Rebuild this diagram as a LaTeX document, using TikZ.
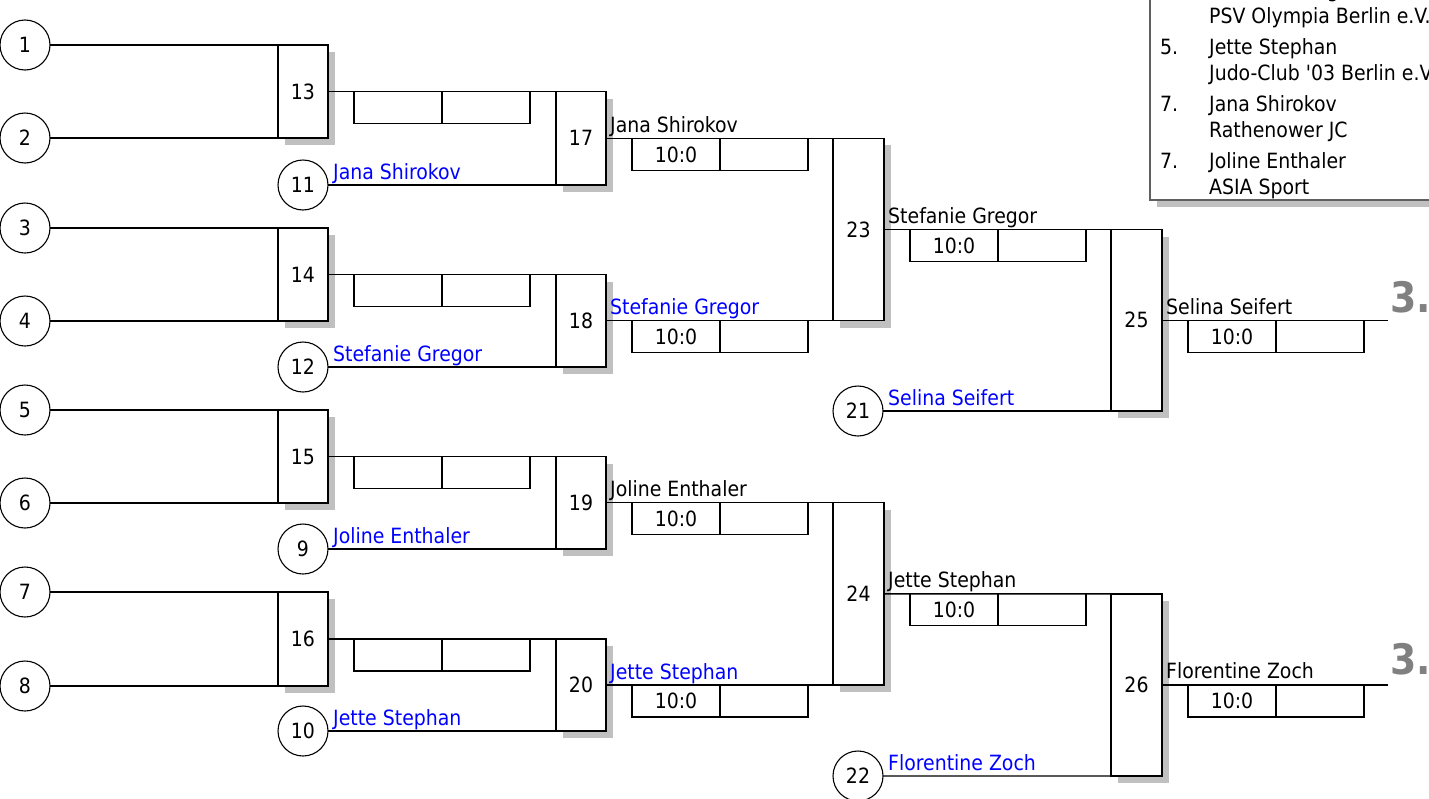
\documentclass[tikz,border=0pt]{standalone}
\usepackage{fontspec}
\setmainfont{DejaVu Sans Condensed}
\usetikzlibrary{shadows}
\definecolor{shadowgray}{HTML}{C0C0C0}
\definecolor{nameblue}{HTML}{0000FF}
\definecolor{placegray}{HTML}{808080}
\definecolor{legendline}{HTML}{606060}
\tikzset{
  ln/.style={line width=1.3pt, draw=black},
  mbox/.style={draw, line width=1.3pt, fill=white, inner sep=0pt, outer sep=0pt,
    drop shadow={shadow xshift=7pt, shadow yshift=-7pt, fill=shadowgray, opacity=1}},
  seed/.style={circle, draw, line width=1.1pt, minimum size=50pt, inner sep=0pt, outer sep=0pt, fill=white},
  score/.style={draw, line width=1.2pt, minimum width=88pt, minimum height=32pt, inner sep=0pt, outer sep=0pt, anchor=north west, text depth=-5pt},
  wname/.style={anchor=base west, inner sep=0pt, text=black},
  lname/.style={anchor=base west, inner sep=0pt, text=nameblue},
  place/.style={anchor=base west, inner sep=0pt, text=placegray, font=\fontsize{42}{45}\selectfont\bfseries},
  legtext/.style={anchor=base west, inner sep=0pt, text=black},
}
\begin{document}
\begin{tikzpicture}[x=1pt, y=-1pt, every node/.append style={font=\fontsize{21}{25}\selectfont}]
\useasboundingbox (0,0) rectangle (1429,798);

% seeds
\node[seed] (c1) at (25,45) {1};
\node[seed] (c2) at (25,138) {2};
\node[seed] (c3) at (25,228) {3};
\node[seed] (c4) at (25,321) {4};
\node[seed] (c5) at (25,410) {5};
\node[seed] (c6) at (25,503) {6};
\node[seed] (c7) at (25,592) {7};
\node[seed] (c8) at (25,686) {8};
\node[seed] (c11) at (303,185) {11};
\node[seed] (c12) at (303,367) {12};
\node[seed] (c9) at (303,549) {9};
\node[seed] (c10) at (303,731) {10};
\node[seed] (c21) at (858,411) {21};
\node[seed] (c22) at (858,776) {22};

% match boxes
\node[mbox, minimum width=50pt, minimum height=93pt] (m13) at (303,91.5) {13};
\node[mbox, minimum width=50pt, minimum height=93pt] (m14) at (303,274.5) {14};
\node[mbox, minimum width=50pt, minimum height=93pt] (m15) at (303,456.5) {15};
\node[mbox, minimum width=50pt, minimum height=94pt] (m16) at (303,639) {16};
\node[mbox, minimum width=50pt, minimum height=93.5pt] (m17) at (581,138.25) {17};
\node[mbox, minimum width=50pt, minimum height=92.5pt] (m18) at (581,320.75) {18};
\node[mbox, minimum width=50pt, minimum height=92.5pt] (m19) at (581,502.75) {19};
\node[mbox, minimum width=50pt, minimum height=92pt] (m20) at (581,685) {20};
\node[mbox, minimum width=51pt, minimum height=182.5pt] (m23) at (858.5,229.5) {23};
\node[mbox, minimum width=51pt, minimum height=182.25pt] (m24) at (858.5,593.875) {24};
\node[mbox, minimum width=51pt, minimum height=181.5pt] (m25) at (1136.5,320.25) {25};
\node[mbox, minimum width=51pt, minimum height=182.1pt] (m26) at (1136.5,684.94) {26};

\coordinate (f25) at (1388,320.25);
\coordinate (f26) at (1388,684.94);

% connectors
\draw[ln] (c1.east) -- (m13.north west);
\draw[ln] (c2.east) -- (m13.south west);
\draw[ln] (c3.east) -- (m14.north west);
\draw[ln] (c4.east) -- (m14.south west);
\draw[ln] (c5.east) -- (m15.north west);
\draw[ln] (c6.east) -- (m15.south west);
\draw[ln] (c7.east) -- (m16.north west);
\draw[ln] (c8.east) -- (m16.south west);
\draw[ln] (m13.east) -- (m17.north west);
\draw[ln] (c11.east) -- (m17.south west);
\draw[ln] (m14.east) -- (m18.north west);
\draw[ln] (c12.east) -- (m18.south west);
\draw[ln] (m15.east) -- (m19.north west);
\draw[ln] (c9.east) -- (m19.south west);
\draw[ln] (m16.east) -- (m20.north west);
\draw[ln] (c10.east) -- (m20.south west);
\draw[ln] (m17.east) -- (m23.north west);
\draw[ln] (m18.east) -- (m23.south west);
\draw[ln] (m19.east) -- (m24.north west);
\draw[ln] (m20.east) -- (m24.south west);
\draw[ln] (m23.east) -- (m25.north west);
\draw[ln] (c21.east) -- (m25.south west);
\draw[ln] (m24.east) -- (m26.north west);
\draw[ln] (c22.east) -- (m26.south west);
\draw[ln] (m25.east) -- (f25);
\draw[ln] (m26.east) -- (f26);

% score boxes
\foreach \m/\s in {13/, 14/, 15/, 16/, 17/10:0, 18/10:0, 19/10:0, 20/10:0, 23/10:0, 24/10:0, 25/10:0, 26/10:0}{
  \node[score] (s\m a) at ([xshift=26pt]m\m.east) {\s};
  \node[score] (s\m b) at (s\m a.north east) {};
}

% names of winners
\node[wname] (n17) at ([xshift=4pt,yshift=6pt]m17.east) {Jana Shirokov};
\node[lname] (n18) at ([xshift=4pt,yshift=6pt]m18.east) {Stefanie Gregor};
\node[wname] (n19) at ([xshift=4pt,yshift=6pt]m19.east) {Joline Enthaler};
\node[lname] (n20) at ([xshift=4pt,yshift=6pt]m20.east) {Jette Stephan};
\node[wname] (n23) at ([xshift=4pt,yshift=6pt]m23.east) {Stefanie Gregor};
\node[wname] (n24) at ([xshift=4pt,yshift=6pt]m24.east) {Jette Stephan};
\node[wname] (n25) at ([xshift=4pt,yshift=6pt]m25.east) {Selina Seifert};
\node[wname] (n26) at ([xshift=4pt,yshift=6pt]m26.east) {Florentine Zoch};

% names at seeds
\node[lname] (n11) at ([xshift=5pt,yshift=6pt]c11.east) {Jana Shirokov};
\node[lname] (n12) at ([xshift=5pt,yshift=6pt]c12.east) {Stefanie Gregor};
\node[lname] (n9) at ([xshift=5pt,yshift=6pt]c9.east) {Joline Enthaler};
\node[lname] (n10) at ([xshift=5pt,yshift=6pt]c10.east) {Jette Stephan};
\node[lname] (n21) at ([xshift=5pt,yshift=6pt]c21.east) {Selina Seifert};
\node[lname] (n22) at ([xshift=5pt,yshift=6pt]c22.east) {Florentine Zoch};

% places
\node[place] (p25) at ([xshift=2pt,yshift=8pt]f25) {3.};
\node[place] (p26) at ([xshift=2pt,yshift=10pt]f26) {3.};

% legend
\coordinate (lg1) at (1150,-20);
\coordinate (lg2) at (1460,200);
\fill[shadowgray] ([xshift=7pt,yshift=-7pt]lg1) rectangle ([xshift=7pt,yshift=-7pt]lg2);
\filldraw[fill=white, draw=legendline, line width=1.2pt] (lg1) rectangle (lg2);
\node[legtext] (l1b) at (1209,-3) {Stefanie Gregor};
\node[legtext] (l1c) at (1209,23) {PSV Olympia Berlin e.V.};
\node[legtext] (l2a) at (1160,54) {5.};
\node[legtext] (l2b) at (1209,54) {Jette Stephan};
\node[legtext] (l2c) at (1209,80) {Judo-Club \textquotesingle03 Berlin e.V.};
\node[legtext] (l3a) at (1160,111) {7.};
\node[legtext] (l3b) at (1209,111) {Jana Shirokov};
\node[legtext] (l3c) at (1209,137) {Rathenower JC};
\node[legtext] (l4a) at (1160,168) {7.};
\node[legtext] (l4b) at (1209,168) {Joline Enthaler};
\node[legtext] (l4c) at (1209,194) {ASIA Sport};
\end{tikzpicture}
\end{document}
